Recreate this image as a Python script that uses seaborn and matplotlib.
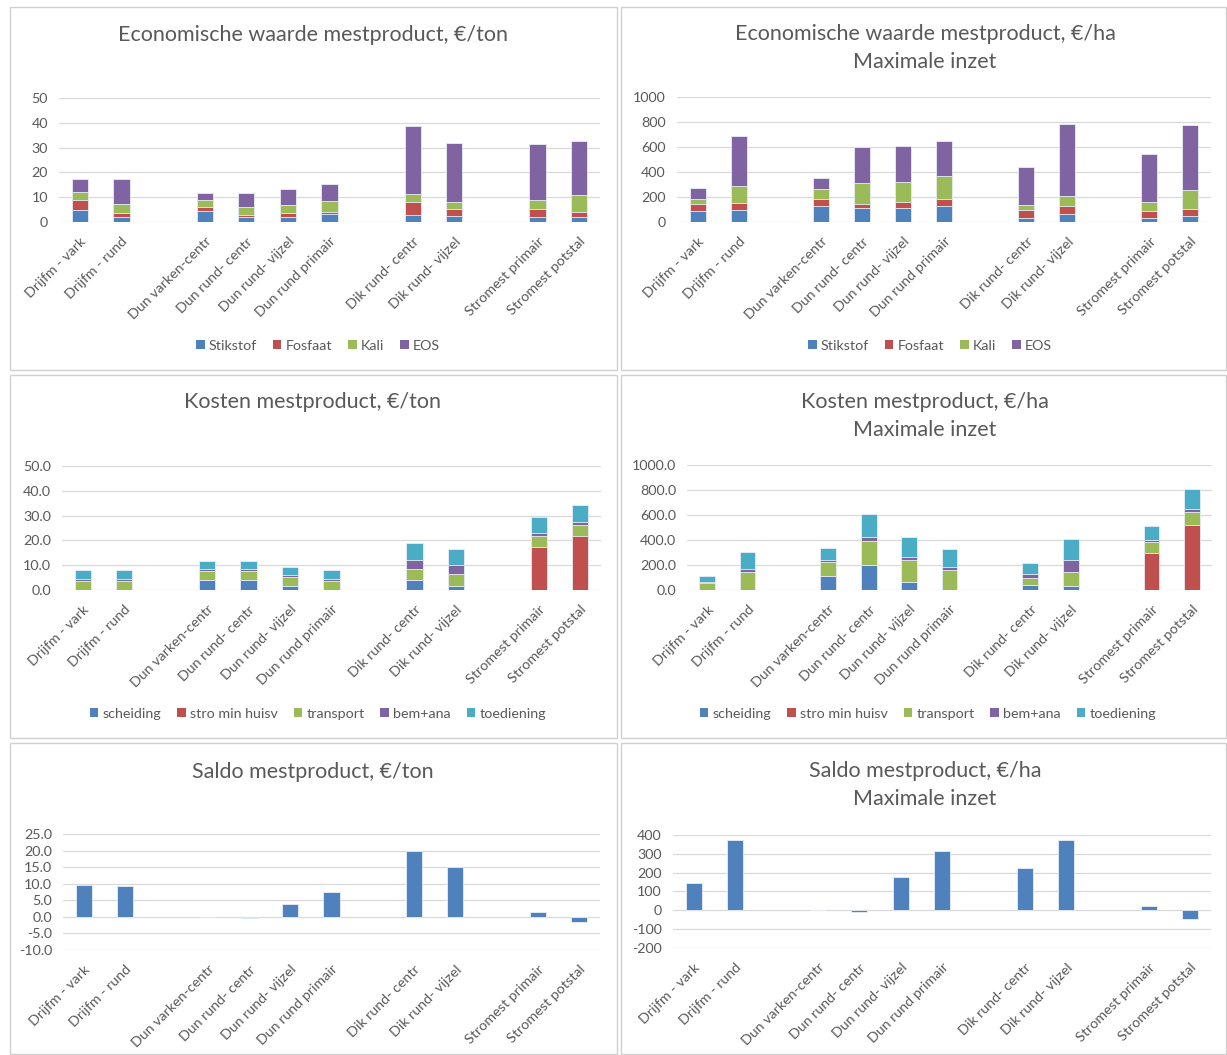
import numpy as np
import pandas as pd
import matplotlib
matplotlib.use("Agg")
import matplotlib.pyplot as plt
from matplotlib.patches import Rectangle, Patch
from matplotlib.ticker import FormatStrFormatter, MultipleLocator
import seaborn as sns

# ---- data -------------------------------------------------------------
categories = ["Drijfm - vark", "Drijfm - rund",
              "Dun varken-centr", "Dun rund- centr", "Dun rund- vijzel", "Dun rund primair",
              "Dik rund- centr", "Dik rund- vijzel",
              "Stromest primair", "Stromest potstal"]
# blank slots separate the product groups on the axis
slot_order = (categories[0:2] + [" "] + categories[2:6] + ["  "]
              + categories[6:8] + ["   "] + categories[8:10])

# economic value, EUR/ton
stikstof_ton = [5.0, 2.1, 4.4, 2.1, 2.1, 3.1, 2.7, 2.4, 1.9, 1.9]
fosfaat_ton = [3.8, 1.6, 1.6, 0.7, 1.4, 1.1, 5.5, 2.7, 3.2, 2.3]
kali_ton = [3.4, 3.5, 2.8, 3.1, 3.5, 4.4, 3.2, 3.1, 3.75, 6.7]
eos_ton = [5.2, 10.0, 3.0, 5.6, 6.3, 6.8, 27.5, 23.8, 22.55, 21.8]

# economic value, EUR/ha at maximum application
stikstof_ha = [85, 98, 131, 115, 109, 131, 35, 64, 34, 45]
fosfaat_ha = [58, 58, 50, 26, 48, 50, 58, 61, 56, 61]
kali_ha = [45, 136, 80, 171, 163, 190, 40, 80, 74, 154]
eos_ha = [83, 398, 91, 285, 291, 280, 310, 582, 380, 517]

# costs, EUR/ton
scheiding_ton = [0, 0, 4.0, 4.0, 1.5, 0, 4.0, 1.5, 0, 0]
stro_ton = [0, 0, 0, 0, 0, 0, 0, 0, 17.3, 21.9]
transport_ton = [3.7, 3.7, 3.6, 3.6, 3.8, 3.7, 4.5, 4.8, 4.6, 4.4]
bemana_ton = [0.7, 0.7, 0.7, 0.7, 0.7, 0.7, 3.6, 3.6, 1.0, 1.0]
toediening_ton = [3.5, 3.5, 3.4, 3.4, 3.1, 3.5, 7.0, 6.6, 6.7, 6.8]

# costs, EUR/ha at maximum application
scheiding_ha = [0, 0, 115, 198, 62, 0, 43, 29, 0, 0]
stro_ha = [0, 0, 0, 0, 0, 0, 0, 0, 298, 520]
transport_ha = [59, 145, 108, 196, 177, 161, 51, 116, 83, 107]
bemana_ha = [8, 27, 21, 32, 24, 24, 37, 94, 16, 22]
toediening_ha = [46, 136, 96, 183, 161, 142, 83, 171, 118, 161]

# balance (value minus costs)
saldo_ton = [9.6, 9.3, 0.1, -0.2, 3.9, 7.4, 19.8, 15.0, 1.4, -1.7]
saldo_ha = [144, 372, 2, -9, 178, 315, 226, 372, 25, -44]

waarde_labels = ["Stikstof", "Fosfaat", "Kali", "EOS"]
kosten_labels = ["scheiding", "stro min huisv", "transport", "bem+ana", "toediening"]

# ---- style ------------------------------------------------------------
sns.set_style("white")
plt.rcParams["font.family"] = ["Lato", "DejaVu Sans"]
plt.rcParams["axes.unicode_minus"] = False

BLUE, RED, GREEN, PURPLE, TEAL = "#4F81BD", "#C0504D", "#9BBB59", "#8064A2", "#4BACC6"
TXT = "#595959"
GRID = "#D9D9D9"
EDGE = "#E8EEF6"
FS = 10.3

W, H = 1227, 1055
fig = plt.figure(figsize=(W / 100, H / 100), dpi=100)


def add_axes(l, r, t, b):
    return fig.add_axes([l / W, 1 - b / H, (r - l) / W, (b - t) / H])


def style_axes(ax, ymin, ymax, step, fmt):
    ax.set_ylim(ymin, ymax)
    ax.yaxis.set_major_locator(MultipleLocator(step))
    ax.yaxis.set_major_formatter(FormatStrFormatter(fmt))
    ax.set_axisbelow(True)
    ax.yaxis.grid(True, color=GRID, linewidth=0.9)
    ax.xaxis.grid(False)
    for s in ax.spines.values():
        s.set_visible(False)
    ax.tick_params(length=0, colors=TXT, labelsize=FS)
    ax.tick_params(axis="y", pad=8)
    ax.tick_params(axis="x", pad=9.5)
    ax.set_xlabel("")
    ax.set_ylabel("")
    ax.set_xticks(range(len(slot_order)))
    ax.set_xticklabels(slot_order, rotation=45, ha="right", va="top",
                       rotation_mode="anchor", color=TXT, fontsize=FS)
    ax.set_xlim(-0.5, len(slot_order) - 0.5)


def stacked(ax, layers, colors):
    cum = np.cumsum(np.array(layers, dtype=float), axis=0)
    for i in reversed(range(len(layers))):
        df = pd.DataFrame({"cat": categories, "val": cum[i]})
        sns.barplot(data=df, x="cat", y="val", order=slot_order, color=colors[i],
                    width=0.39, saturation=1, errorbar=None, ax=ax,
                    edgecolor=EDGE, linewidth=0.6)


def simple(ax, values):
    df = pd.DataFrame({"cat": categories, "val": values})
    sns.barplot(data=df, x="cat", y="val", order=slot_order, color=BLUE,
                width=0.39, saturation=1, errorbar=None, ax=ax,
                edgecolor=EDGE, linewidth=0.6)


def title(cx, cy, text):
    fig.text(cx / W, 1 - cy / H, text, ha="center", va="center",
             fontsize=15.5, color=TXT)


def legend(cx, cy, labels, colors):
    handles = [Patch(facecolor=c, edgecolor="none") for c in colors]
    fig.legend(handles, labels, loc="center", bbox_to_anchor=(cx / W, 1 - cy / H),
               ncol=len(labels), frameon=False, fontsize=FS, labelcolor=TXT,
               handlelength=0.6, handleheight=0.6, handletextpad=0.3,
               columnspacing=1.1)


def frame(x0, y0, x1, y1):
    fig.add_artist(Rectangle((x0 / W, 1 - y1 / H), (x1 - x0) / W, (y1 - y0) / H,
                             transform=fig.transFigure, fill=False,
                             edgecolor="#D0D0D0", linewidth=1.0))


# panel frames
frame(10, 7, 617, 370)
frame(621, 7, 1226, 370)
frame(10, 375, 617, 738)
frame(621, 375, 1226, 738)
frame(10, 743, 617, 1054)
frame(621, 743, 1226, 1054)

waarde_colors = [BLUE, RED, GREEN, PURPLE]
kosten_colors = [BLUE, RED, GREEN, PURPLE, TEAL]

# economic value per ton
ax1 = add_axes(59, 600, 98, 222)
stacked(ax1, [stikstof_ton, fosfaat_ton, kali_ton, eos_ton], waarde_colors)
style_axes(ax1, 0, 50, 10, "%d")
title(313, 35, "Economische waarde mestproduct, €/ton")
legend(318, 346, waarde_labels, waarde_colors)

# economic value per ha
ax2 = add_axes(677, 1211, 97, 222)
stacked(ax2, [stikstof_ha, fosfaat_ha, kali_ha, eos_ha], waarde_colors)
style_axes(ax2, 0, 1000, 200, "%d")
title(925, 34, "Economische waarde mestproduct, €/ha")
title(925, 62, "Maximale inzet")
legend(930, 346, waarde_labels, waarde_colors)

# costs per ton
ax3 = add_axes(62, 601, 466, 590)
stacked(ax3, [scheiding_ton, stro_ton, transport_ton, bemana_ton, toediening_ton],
        kosten_colors)
style_axes(ax3, 0, 50, 10, "%.1f")
title(313, 402, "Kosten mestproduct, €/ton")
legend(318, 714, kosten_labels, kosten_colors)

# costs per ha
ax4 = add_axes(687, 1212, 465, 590)
stacked(ax4, [scheiding_ha, stro_ha, transport_ha, bemana_ha, toediening_ha],
        kosten_colors)
style_axes(ax4, 0, 1000, 200, "%.1f")
title(925, 402, "Kosten mestproduct, €/ha")
title(925, 430, "Maximale inzet")
legend(928, 714, kosten_labels, kosten_colors)

# balance per ton
ax5 = add_axes(63, 600, 834, 950)
simple(ax5, saldo_ton)
style_axes(ax5, -10, 25, 5, "%.1f")
title(313, 772, "Saldo mestproduct, €/ton")

# balance per ha
ax6 = add_axes(673, 1211, 835, 948)
simple(ax6, saldo_ha)
style_axes(ax6, -200, 400, 100, "%d")
title(925, 771, "Saldo mestproduct, €/ha")
title(925, 799, "Maximale inzet")

fig.savefig("out.png", dpi=100, facecolor="white")
